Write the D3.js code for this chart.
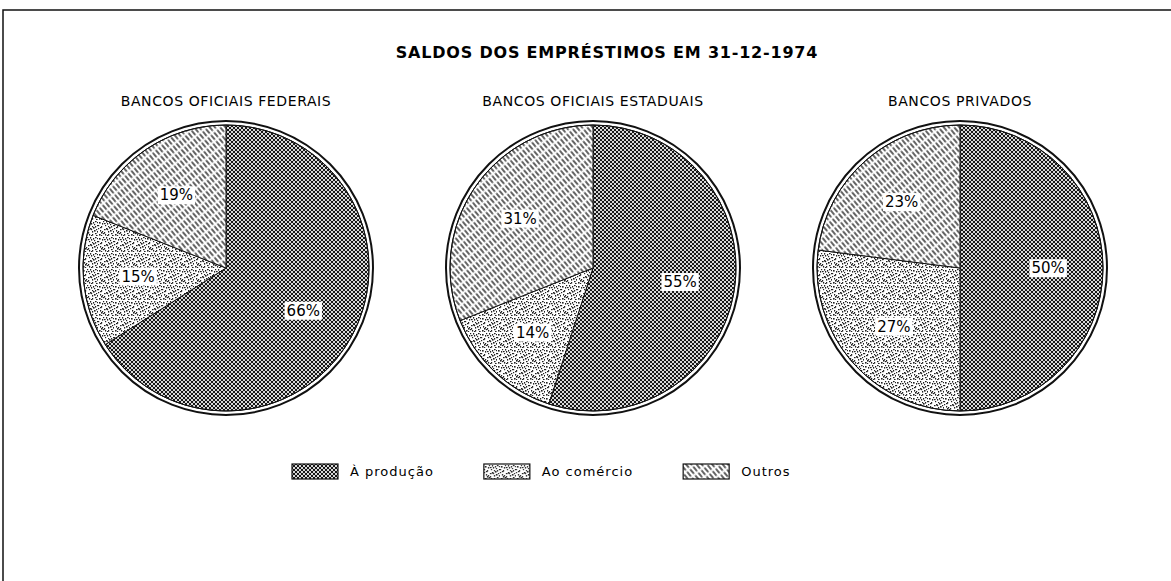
<!DOCTYPE html>
<html>
    <head>
        <meta charset="utf-8">
        <title>Saldos dos empréstimos em 31-12-1974</title>
        <style>
            body { margin: 0; background: white; }
            svg { display: block; }
            .title { font-family: "DejaVu Sans", sans-serif; font-weight: bold; font-size: 16px; letter-spacing: 0.8px; }
            .bank { font-family: "DejaVu Sans", sans-serif; font-size: 14px; letter-spacing: 0.6px; }
            .pct { font-family: "DejaVu Sans", sans-serif; font-size: 15px; }
            .legend { font-family: "DejaVu Sans", sans-serif; font-size: 13px; letter-spacing: 1px; }
        </style>
    </head>
    <body>
        <svg width="1171" height="581"></svg>

        <script src="https://d3js.org/d3.v7.min.js"></script>
        <script>
            // chart values
            const title = 'SALDOS DOS EMPRÉSTIMOS EM 31-12-1974';
            const categories = ['À produção', 'Ao comércio', 'Outros'];
            const banks = ['BANCOS OFICIAIS FEDERAIS', 'BANCOS OFICIAIS ESTADUAIS', 'BANCOS PRIVADOS'];
            const federais = [66, 15, 19];
            const estaduais = [55, 14, 31];
            const privados = [50, 27, 23];
            const series = [federais, estaduais, privados];

            let svg = d3.select('svg');
            let width = +svg.attr('width');
            let height = +svg.attr('height');
            let radius = 147;
            let cy = 268;

            // pie centres come from a point scale over the bank names
            let x = d3.scalePoint()
                .domain(banks)
                .range([226, 960]);

            let defs = svg.append('defs');

            // diagonal dot lattice for "À produção"
            let prod = defs.append('pattern')
                .attr('id', 'pat0')
                .attr('patternUnits', 'userSpaceOnUse')
                .attr('width', 4).attr('height', 4);
            prod.append('rect').attr('width', 4).attr('height', 4).attr('fill', 'white');
            [[0,0],[4,0],[0,4],[4,4],[2,2]].forEach(p => {
                prod.append('circle').attr('cx', p[0]).attr('cy', p[1]).attr('r', 1.2).attr('fill', '#111');
            });

            // speckle texture for "Ao comércio" (hand placed dots in a tile)
            let spk = defs.append('pattern')
                .attr('id', 'pat1')
                .attr('patternUnits', 'userSpaceOnUse')
                .attr('width', 16).attr('height', 16);
            spk.append('rect').attr('width', 16).attr('height', 16).attr('fill', 'white');
            const specks = [[1,2],[5,1],[9,3],[13,1],[3,6],[7,5],[11,7],[15,5],[2,10],[6,9],
                            [10,11],[14,9],[1,14],[5,13],[9,15],[13,13],[4,3],[12,4],[8,8],[0,8],
                            [6,12],[14,15],[11,2],[3,15],[15,11],[10,6],[7,14],[2,7],
                            [8,1],[0,5],[12,10],[4,11],[13,6],[6,3],[10,14],[15,2],[3,12],[9,9]];
            specks.forEach((p, i) => {
                spk.append('rect')
                    .attr('x', p[0]).attr('y', p[1])
                    .attr('width', i % 3 ? 1.2 : 1.6).attr('height', i % 2 ? 1.2 : 1.6)
                    .attr('fill', '#222');
            });

            // short diagonal dashes for "Outros"
            let out = defs.append('pattern')
                .attr('id', 'pat2')
                .attr('patternUnits', 'userSpaceOnUse')
                .attr('width', 8).attr('height', 4)
                .attr('patternTransform', 'rotate(50)');
            out.append('rect').attr('width', 8).attr('height', 4).attr('fill', 'white');
            out.append('line')
                .attr('x1', 0.5).attr('y1', 2).attr('x2', 6.5).attr('y2', 2)
                .attr('stroke', '#111').attr('stroke-width', 1.3);

            let fills = d3.scaleOrdinal()
                .domain(categories)
                .range(['url(#pat0)', 'url(#pat1)', 'url(#pat2)']);

            // frame lines of the original page
            svg.append('path')
                .attr('d', `M3,${height} L3,10 L${width},10`)
                .attr('fill', 'none')
                .attr('stroke', '#111')
                .attr('stroke-width', 1.5);

            svg.append('text')
                .attr('class', 'title')
                .attr('x', 607)
                .attr('y', 58)
                .attr('text-anchor', 'middle')
                .text(title);

            let pie = d3.pie().sort(null).value(d => d);
            let arc = d3.arc().innerRadius(0).outerRadius(radius - 4);
            let labelArc = d3.arc().innerRadius(radius * 0.6).outerRadius(radius * 0.6);

            let groups = svg.selectAll('g.pie')
                .data(banks)
                .enter()
                .append('g')
                .attr('class', 'pie')
                .attr('transform', d => `translate(${x(d)},${cy})`);

            groups.append('text')
                .attr('class', 'bank')
                .attr('y', -cy + 106)
                .attr('text-anchor', 'middle')
                .text(d => d);

            groups.each(function(bank, i) {
                let g = d3.select(this);
                let arcs = pie(series[i]);

                g.selectAll('path.slice')
                    .data(arcs)
                    .enter()
                    .append('path')
                    .attr('class', 'slice')
                    .attr('d', arc)
                    .attr('fill', (d, j) => fills(categories[j]))
                    .attr('stroke', '#111')
                    .attr('stroke-width', 1);

                // double outline
                g.append('circle').attr('r', radius - 4).attr('fill', 'none').attr('stroke', '#111').attr('stroke-width', 1);
                g.append('circle').attr('r', radius).attr('fill', 'none').attr('stroke', '#111').attr('stroke-width', 2);

                let labels = g.selectAll('g.lbl')
                    .data(arcs)
                    .enter()
                    .append('g')
                    .attr('class', 'lbl')
                    .attr('transform', d => `translate(${labelArc.centroid(d)})`);

                labels.append('text')
                    .attr('class', 'pct')
                    .attr('text-anchor', 'middle')
                    .attr('dy', '0.35em')
                    .text(d => d.data + '%');

                labels.each(function() {
                    let t = d3.select(this).select('text');
                    let b = t.node().getBBox();
                    d3.select(this).insert('rect', 'text')
                        .attr('x', b.x - 2).attr('y', b.y)
                        .attr('width', b.width + 4).attr('height', b.height)
                        .attr('fill', 'white');
                });
            });

            // legend: items laid out one after another
            let legend = svg.selectAll('g.legend')
                .data(categories)
                .enter()
                .append('g')
                .attr('class', 'legend');

            legend.append('rect')
                .attr('width', 46)
                .attr('height', 15)
                .attr('fill', d => fills(d))
                .attr('stroke', '#111')
                .attr('stroke-width', 1.2);

            legend.append('text')
                .attr('x', 58)
                .attr('y', 12)
                .text(d => d);

            let lxPos = 292;
            legend.each(function() {
                let g = d3.select(this);
                g.attr('transform', `translate(${lxPos},464)`);
                let w = g.select('text').node().getComputedTextLength();
                lxPos += 58 + w + 50;
            });
        </script>
    </body>
</html>
